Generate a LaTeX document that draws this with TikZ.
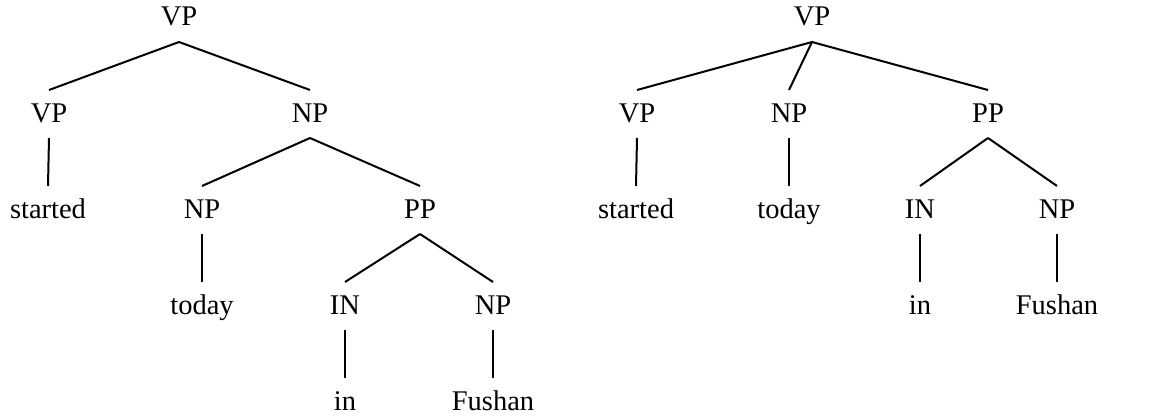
\documentclass[tikz,border=0pt]{standalone}
\usepackage{fontspec}
\setmainfont{Liberation Serif}
\begin{document}
\begin{tikzpicture}[x=0.5pt,y=-0.5pt,
  lbl/.style={anchor=base,inner sep=0pt,font=\fontsize{14.25}{17}\selectfont},
  edge/.style={line width=1pt}]
\useasboundingbox (0,0) rectangle (1149,417);
\newcommand{\tedge}[2]{\draw[edge] ([yshift=-8pt]#1.base) -- ([yshift=16pt]#2.base);}
% left tree
\node[lbl] (a) at (179,26) {VP};
\node[lbl] (a1) at (49,122) {VP};
\node[lbl] (a2) at (310,122) {NP};
\node[lbl] (a11) at (48,218) {started};
\node[lbl] (a21) at (202,218) {NP};
\node[lbl] (a22) at (420,218) {PP};
\node[lbl] (a211) at (202,314) {today};
\node[lbl] (a221) at (345,314) {IN};
\node[lbl] (a222) at (493,314) {NP};
\node[lbl] (a2211) at (345,410) {in};
\node[lbl] (a2221) at (493,410) {Fushan};
\tedge{a}{a1}\tedge{a}{a2}
\tedge{a1}{a11}
\tedge{a2}{a21}\tedge{a2}{a22}
\tedge{a21}{a211}
\tedge{a22}{a221}\tedge{a22}{a222}
\tedge{a221}{a2211}
\tedge{a222}{a2221}
% right tree
\node[lbl] (b) at (812,26) {VP};
\node[lbl] (b1) at (637,122) {VP};
\node[lbl] (b2) at (789,122) {NP};
\node[lbl] (b3) at (988,122) {PP};
\node[lbl] (b11) at (636,218) {started};
\node[lbl] (b21) at (789,218) {today};
\node[lbl] (b31) at (920,218) {IN};
\node[lbl] (b32) at (1057,218) {NP};
\node[lbl] (b311) at (920,314) {in};
\node[lbl] (b321) at (1057,314) {Fushan};
\tedge{b}{b1}\tedge{b}{b2}\tedge{b}{b3}
\tedge{b1}{b11}
\tedge{b2}{b21}
\tedge{b3}{b31}\tedge{b3}{b32}
\tedge{b31}{b311}
\tedge{b32}{b321}
\end{tikzpicture}
\end{document}
